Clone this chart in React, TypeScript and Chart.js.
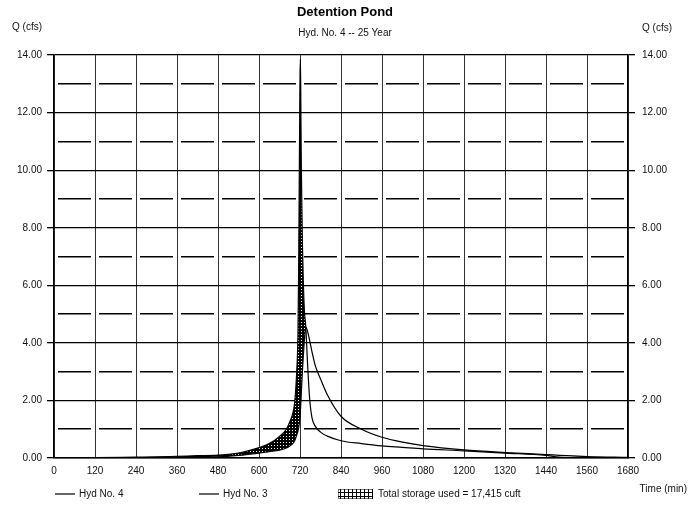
import React, { useEffect, useRef } from 'react';
import { Chart, registerables } from 'chart.js';

Chart.register(...registerables);

// ---- data ----
const titleText = 'Detention Pond';
const subtitleText = 'Hyd. No. 4 -- 25 Year';
const yAxisLabel = 'Q (cfs)';
const xAxisLabel = 'Time (min)';
const seriesLabels = ['Hyd No. 4', 'Hyd No. 3'];
const storageLabel = 'Total storage used = 17,415 cuft';

const times = [
  0, 120, 240, 300, 360, 420, 480, 540, 600, 630, 660, 680, 690, 700, 705, 710, 714, 716, 718, 720,
  721, 722, 724, 727, 730, 733, 737, 742, 748, 755, 765, 780, 800, 840, 900, 960, 1020, 1080, 1200,
  1320, 1440, 1470, 1500, 1560, 1680,
];
// Hyd No. 4 (outflow)
const hyd4 = [
  0, 0, 0.005, 0.01, 0.02, 0.03, 0.04, 0.09, 0.17, 0.22, 0.27, 0.35, 0.42, 0.52, 0.62, 0.78, 0.93, 1.05, 1.2, 1.45,
  1.6, 1.8, 2.3, 3.0, 3.6, 4.1, 4.55, 4.4, 4.1, 3.7, 3.2, 2.75, 2.2, 1.45, 1.0, 0.72, 0.55, 0.43, 0.28,
  0.19, 0.12, 0.1, 0.08, 0.05, 0.02,
];
// Hyd No. 3 (inflow)
const hyd3 = [
  0, 0.01, 0.03, 0.04, 0.06, 0.08, 0.1, 0.17, 0.36, 0.5, 0.75, 1.0, 1.25, 1.6, 2.0, 2.9, 4.3, 6.5, 10.0, 13.2,
  13.85, 13.0, 10.0, 7.5, 6.0, 5.1, 4.55, 3.3, 2.1, 1.4, 1.1, 0.9, 0.76, 0.6, 0.5, 0.42, 0.37, 0.32, 0.25,
  0.17, 0.09, 0.04, 0.01, 0, 0,
];

const xMin = 0;
const xMax = 1680;
const xStep = 120;
const yMin = 0;
const yMax = 14;
const yMajorStep = 2;
const yMinorStep = 1;

const FONT = '"Liberation Sans", Arial, Helvetica, sans-serif';

export default function App() {
  const ref = useRef<HTMLCanvasElement>(null);

  useEffect(() => {
    const canvas = ref.current!;
    const pc = document.createElement('canvas');
    pc.width = 3;
    pc.height = 3;
    const p = pc.getContext('2d')!;
    p.fillStyle = '#000';
    p.fillRect(0, 0, 3, 3);
    p.fillStyle = '#fff';
    p.fillRect(1, 1, 1, 1);
    const hatch = canvas.getContext('2d')!.createPattern(pc, 'repeat')!;

    const lpc = document.createElement('canvas');
    lpc.width = 4;
    lpc.height = 4;
    const lp = lpc.getContext('2d')!;
    lp.fillStyle = '#fff';
    lp.fillRect(0, 0, 4, 4);
    lp.fillStyle = '#000';
    lp.fillRect(0, 0, 1, 4);
    lp.fillRect(0, 0, 4, 1);
    const legendHatch = canvas.getContext('2d')!.createPattern(lpc, 'repeat')!;

    const extras = {
      id: 'extras',
      afterDraw(chart: any) {
        const ctx = chart.ctx as CanvasRenderingContext2D;
        ctx.save();
        ctx.fillStyle = '#111';
        ctx.font = `10px ${FONT}`;
        ctx.textBaseline = 'middle';
        ctx.textAlign = 'left';
        ctx.fillText(yAxisLabel, 12, 27);
        ctx.fillText(yAxisLabel, 642, 28);
        ctx.textAlign = 'right';
        ctx.fillText(xAxisLabel, 687, 489);

        // legend
        const ly = 494;
        const lineStarts = [55, 199];
        ctx.textAlign = 'left';
        chart.data.datasets.forEach((ds: any, i: number) => {
          const x0 = lineStarts[i];
          ctx.strokeStyle = ds.borderColor;
          ctx.lineWidth = 1.2;
          ctx.beginPath();
          ctx.moveTo(x0, ly);
          ctx.lineTo(x0 + 20, ly);
          ctx.stroke();
          ctx.fillText(ds.label, x0 + 24, ly);
        });
        const bx = 338;
        ctx.fillStyle = legendHatch;
        ctx.fillRect(bx, ly - 5, 35, 10);
        ctx.setLineDash([1, 1]);
        ctx.strokeStyle = '#000';
        ctx.lineWidth = 1;
        ctx.strokeRect(bx + 0.5, ly - 4.5, 34, 9);
        ctx.setLineDash([]);
        ctx.fillStyle = '#111';
        ctx.fillText(storageLabel, bx + 40, ly);
        ctx.restore();
      },
    };

    const tickFont = { size: 10, family: FONT };
    const yTickCb = (v: any) => Number(v).toFixed(2);

    const chart = new Chart(canvas, {
      type: 'line',
      data: {
        datasets: [
          {
            label: seriesLabels[0],
            data: times.map((t, i) => ({ x: t, y: hyd4[i] })),
            borderColor: '#000',
            borderWidth: 1.2,
            pointRadius: 0,
            fill: false,
            cubicInterpolationMode: 'monotone',
          },
          {
            label: seriesLabels[1],
            data: times.map((t, i) => ({ x: t, y: hyd3[i] })),
            borderColor: '#000',
            borderWidth: 1.2,
            pointRadius: 0,
            fill: { target: 0, above: hatch as any, below: 'rgba(0,0,0,0)' },
            cubicInterpolationMode: 'monotone',
          },
        ],
      },
      options: {
        animation: false,
        responsive: true,
        maintainAspectRatio: false,
        layout: { padding: { top: 0, left: 0, right: 0, bottom: 22 } },
        plugins: {
          legend: { display: false },
          tooltip: { enabled: false },
          title: {
            display: true,
            text: titleText,
            color: '#000',
            font: { size: 13, weight: 'bold', family: FONT },
            lineHeight: 1.1,
            padding: { top: 5, bottom: 5 },
          },
          subtitle: {
            display: true,
            text: subtitleText,
            color: '#111',
            font: { size: 10, family: FONT },
            padding: { top: 2, bottom: 15.5 },
          },
        },
        scales: {
          x: {
            type: 'linear',
            min: xMin,
            max: xMax,
            ticks: {
              stepSize: xStep,
              autoSkip: false,
              maxRotation: 0,
              padding: 7,
              color: '#111',
              font: tickFont,
              callback: (v: any) => String(v),
            },
            grid: { color: '#333', lineWidth: 1, drawTicks: false },
            border: { color: '#000', width: 1.5 },
            afterFit: (s: any) => {
              s.height = 30;
            },
          },
          y: {
            position: 'left',
            min: yMin,
            max: yMax,
            ticks: { stepSize: yMajorStep, padding: 5, color: '#111', font: tickFont, callback: yTickCb },
            grid: { color: '#000', lineWidth: 1.3, tickLength: 7, tickColor: '#000' },
            border: { color: '#000', width: 1.3 },
            afterFit: (s: any) => {
              s.width = 54;
            },
          },
          yMinor: {
            position: 'left',
            min: yMin,
            max: yMax,
            ticks: { stepSize: yMinorStep, display: false },
            grid: {
              color: (c: any) => (c.tick && Math.round(c.tick.value) % 2 === 1 ? '#000' : 'rgba(0,0,0,0)'),
              lineWidth: 1.5,
              drawTicks: false,
            },
            border: { display: false, dash: [33, 8], dashOffset: 37 },
            afterFit: (s: any) => {
              s.width = 0;
            },
          },
          y2: {
            position: 'right',
            min: yMin,
            max: yMax,
            ticks: { stepSize: yMajorStep, padding: 7, color: '#111', font: tickFont, callback: yTickCb },
            grid: { drawOnChartArea: false, color: '#000', lineWidth: 1.3, tickLength: 7 },
            border: { color: '#000', width: 1.3 },
            afterFit: (s: any) => {
              s.width = 62;
            },
          },
        },
      } as any,
      plugins: [extras],
    });

    return () => chart.destroy();
  }, []);

  return (
    <div style={{ position: 'absolute', left: 0, top: 0, width: 690, height: 510, background: '#fff' }}>
      <canvas ref={ref} />
    </div>
  );
}
